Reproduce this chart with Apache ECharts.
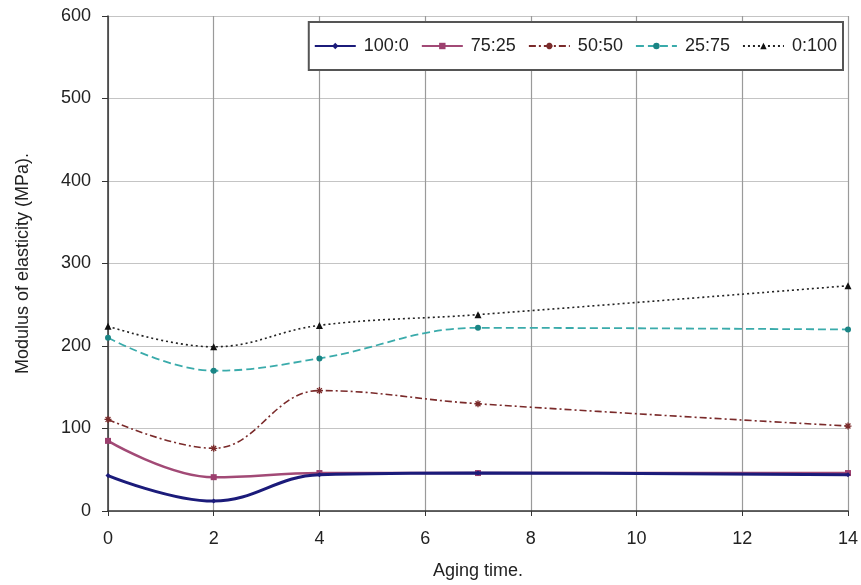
<!DOCTYPE html>
<html>
<head>
<meta charset="utf-8">
<script src="https://cdn.jsdelivr.net/npm/echarts@6/dist/echarts.min.js"></script>
<style>
  html, body { margin: 0; padding: 0; background: #fff; }
  #chart { width: 861px; height: 585px; }
</style>
</head>
<body>
<div id="chart"></div>
<script>
// Aging time (x) and modulus of elasticity (MPa) for each blend ratio
const agingTime = [0, 2, 4, 7, 14];
const blend100_0 = [43, 12, 44, 46, 44];
const blend75_25 = [85, 41, 46, 46, 46];
const blend50_50 = [111, 76, 146, 130, 103];
const blend25_75 = [210, 170, 185, 222, 220];
const blend0_100 = [224, 199, 225, 238, 273];
const seriesNames = ['100:0', '75:25', '50:50', '25:75', '0:100'];

const pairs = ys => agingTime.map((x, i) => [x, ys[i]]);
const FONT = '"Liberation Sans", Arial, Helvetica, sans-serif';
const FS = 18;

const starPath = 'path://M5,0L5,10M0,5L10,5M1.5,1.5L8.5,8.5M8.5,1.5L1.5,8.5';

const chart = echarts.init(document.getElementById('chart'), null, { renderer: 'canvas' });
chart.setOption({
  backgroundColor: '#ffffff',
  animation: false,
  textStyle: { fontFamily: FONT, color: '#222' },
  grid: { left: 108, right: 11, top: 16, bottom: 74, containLabel: false },
  legend: {
    data: seriesNames,
    right: 18,
    top: 22,
    itemWidth: 41,
    itemHeight: 8,
    itemGap: 12,
    padding: [15, 6, 15, 5],
    borderColor: '#555',
    borderWidth: 2,
    backgroundColor: '#fff',
    textStyle: { fontFamily: FONT, fontSize: FS, color: '#222', padding: [0, 0, 0, 3] }
  },
  xAxis: {
    type: 'value',
    min: 0, max: 14, interval: 2,
    name: 'Aging time.',
    nameLocation: 'middle',
    nameGap: 51,
    nameTextStyle: { fontFamily: FONT, fontSize: FS, color: '#222' },
    axisLine: { show: true, onZero: false, lineStyle: { color: '#333', width: 1.5 } },
    axisTick: { show: true, inside: false, length: 5, lineStyle: { color: '#333' } },
    axisLabel: { margin: 19, fontFamily: FONT, fontSize: FS, color: '#222' },
    splitLine: { show: true, lineStyle: { color: '#9a9a9a', width: 1.2 } }
  },
  yAxis: {
    type: 'value',
    min: 0, max: 600, interval: 100,
    name: 'Modulus of elasticity (MPa).',
    nameLocation: 'middle',
    nameGap: 76,
    nameTextStyle: { fontFamily: FONT, fontSize: FS, color: '#222' },
    axisLine: { show: true, lineStyle: { color: '#333', width: 1.5 } },
    axisTick: { show: true, inside: false, length: 6, lineStyle: { color: '#333' } },
    axisLabel: { margin: 17, fontFamily: FONT, fontSize: FS, color: '#222' },
    splitLine: { show: true, lineStyle: { color: '#c4c4c4', width: 1.2 } }
  },
  series: [
    {
      name: '100:0', type: 'line', smooth: 0.4, data: pairs(blend100_0),
      symbol: 'diamond', symbolSize: 5,
      itemStyle: { color: '#1b1b7a' },
      lineStyle: { color: '#1b1b7a', width: 3 }, z: 6
    },
    {
      name: '75:25', type: 'line', smooth: 0.4, data: pairs(blend75_25),
      symbol: 'rect', symbolSize: 6,
      itemStyle: { color: '#9c3f6e' },
      lineStyle: { color: '#a24a76', width: 2.5 }, z: 5
    },
    {
      name: '50:50', type: 'line', smooth: 0.4, data: pairs(blend50_50),
      symbol: starPath, symbolSize: 7,
      itemStyle: { color: '#7a2a2a', borderColor: '#7a2a2a', borderWidth: 1.3 },
      lineStyle: { color: '#7a2a2a', width: 1.6, type: [7, 3, 2, 3] }, z: 4
    },
    {
      name: '25:75', type: 'line', smooth: 0.4, data: pairs(blend25_75),
      symbol: 'circle', symbolSize: 6,
      itemStyle: { color: '#1a8585' },
      lineStyle: { color: '#3aabab', width: 1.8, type: [8, 4] }, z: 3
    },
    {
      name: '0:100', type: 'line', smooth: 0.4, data: pairs(blend0_100),
      symbol: 'triangle', symbolSize: 7,
      itemStyle: { color: '#111' },
      lineStyle: { color: '#222', width: 1.6, type: [2, 3] }, z: 2
    }
  ]
});
</script>
</body>
</html>
